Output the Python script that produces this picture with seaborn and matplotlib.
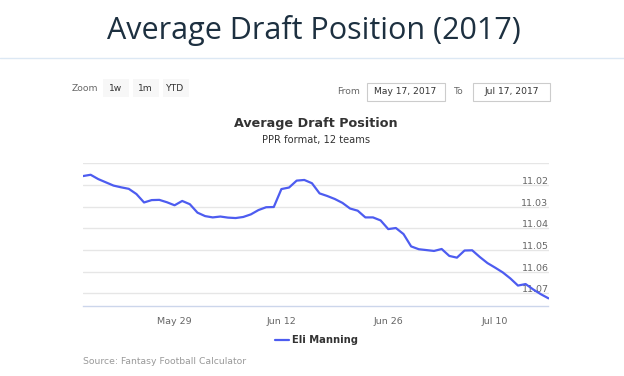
import pandas as pd
import numpy as np
import matplotlib
matplotlib.use('Agg')
import matplotlib.pyplot as plt
import matplotlib.dates as mdates
import matplotlib.transforms as mtransforms
from matplotlib.patches import Rectangle
import seaborn as sns

# data (ADP of Eli Manning, daily, May 17 - Jul 17 2017)
start_date = '2017-05-17'
end_date = '2017-07-17'
adp = [11.0159, 11.0153, 11.0173, 11.0188, 11.0203, 11.0211, 11.0218, 11.0242,
       11.0281, 11.0270, 11.0269, 11.0280, 11.0294, 11.0274, 11.0289, 11.0328,
       11.0344, 11.0350, 11.0346, 11.0351, 11.0353, 11.0348, 11.0336, 11.0316,
       11.0303, 11.0302, 11.0219, 11.0212, 11.0180, 11.0177, 11.0192, 11.0239,
       11.0251, 11.0265, 11.0283, 11.0309, 11.0319, 11.0350, 11.0350, 11.0364,
       11.0404, 11.0399, 11.0427, 11.0484, 11.0497, 11.0501, 11.0505, 11.0496,
       11.0528, 11.0536, 11.0503, 11.0502, 11.0533, 11.0561, 11.0582, 11.0604,
       11.0632, 11.0665, 11.0658, 11.0683, 11.0705, 11.0724]
player = 'Eli Manning'
y_ticks = [11.01, 11.02, 11.03, 11.04, 11.05, 11.06, 11.07]
x_ticks = ['2017-05-29', '2017-06-12', '2017-06-26', '2017-07-10']
x_tick_labels = ['May 29', 'Jun 12', 'Jun 26', 'Jul 10']

dates = pd.date_range(start_date, end_date, freq='D')
df = pd.DataFrame({'date': dates, 'adp': adp})

sns.set_style('white')
plt.rcParams['font.family'] = ['DejaVu Sans']

W, H = 624, 376
fig = plt.figure(figsize=(W / 100, H / 100), dpi=100)


def fx(px):
    return px / W


def fy(py):
    return 1 - py / H


# page header
fig.text(fx(314), fy(30), 'Average Draft Position (2017)', family='Open Sans',
         fontsize=22, color='#1d3040', ha='center', va='center')
fig.add_artist(plt.Line2D([0, 1], [fy(58), fy(58)], color='#dce8f4', lw=1))

# zoom buttons
fig.text(fx(72), fy(88.5), 'Zoom', fontsize=6.6, color='#666666', va='center')
for x0, x1, lab in [(102.5, 128.5, '1w'), (132.5, 159, '1m'), (162.5, 188.5, 'YTD')]:
    fig.add_artist(Rectangle((fx(x0), fy(96.7)), fx(x1 - x0), (96.7 - 79.3) / H,
                             facecolor='#f7f7f7', edgecolor='none'))
    fig.text(fx((x0 + x1) / 2), fy(88.5), lab, fontsize=6.6, color='#333333',
             ha='center', va='center')

# date range inputs
fig.text(fx(337), fy(92), 'From', fontsize=6.6, color='#666666', va='center')
fig.text(fx(453.5), fy(92), 'To', fontsize=6.6, color='#666666', va='center')
for x0, x1, lab in [(366.5, 444.5, 'May 17, 2017'), (472.5, 550, 'Jul 17, 2017')]:
    fig.add_artist(Rectangle((fx(x0), fy(101)), fx(x1 - x0), (101 - 83.3) / H,
                             facecolor='white', edgecolor='#cccccc', lw=0.8))
    fig.text(fx((x0 + x1) / 2), fy(92), lab, fontsize=6.6, color='#333333',
             ha='center', va='center')

# chart titles
fig.text(fx(316), fy(123.5), 'Average Draft Position', fontsize=9.2,
         fontweight='bold', color='#333333', ha='center', va='center')
fig.text(fx(316), fy(140.5), 'PPR format, 12 teams', fontsize=7.1,
         color='#333333', ha='center', va='center')

# plot area
ax = fig.add_axes([fx(83), fy(305.7), fx(548.5 - 83), (305.7 - 163.3) / H])
sns.lineplot(data=df, x='date', y='adp', ax=ax, color='#4d5cf0', lw=1.6,
             legend=False, zorder=3)
ax.set_xlim(dates[0], dates[-1])
ax.set_ylim(11.0758, 11.01)
ax.set_yticks(y_ticks)
ax.yaxis.grid(True, color='#e6e6e6', lw=1)
ax.xaxis.grid(False)
ax.tick_params(axis='y', length=0, labelleft=False)
ax.set_xticks(pd.to_datetime(x_ticks))
ax.set_xticklabels(x_tick_labels)
ax.tick_params(axis='x', length=5, width=1, color='#ccd6eb', labelcolor='#666666',
               labelsize=6.8, pad=3)
ax.set_xlabel('')
ax.set_ylabel('')
for s in ['top', 'left', 'right']:
    ax.spines[s].set_visible(False)
ax.spines['bottom'].set_color('#ccd6eb')
ax.spines['bottom'].set_linewidth(1)

trans = mtransforms.blended_transform_factory(ax.transAxes, ax.transData)
trans = mtransforms.offset_copy(trans, fig=fig, x=0, y=1, units='dots')
for v in y_ticks[1:]:
    ax.text(1.0, v, f'{v:.2f}', transform=trans, ha='right', va='baseline',
            fontsize=6.8, color='#666666', zorder=2)

# legend and source
fig.add_artist(plt.Line2D([fx(274.5), fx(288.5)], [fy(340), fy(340)],
                          color='#4d5cf0', lw=1.6))
fig.text(fx(292.5), fy(340), player, fontsize=7.2, fontweight='bold',
         color='#333333', va='center')
fig.text(fx(83), fy(362), 'Source: Fantasy Football Calculator', fontsize=6.7,
         color='#999999', va='center')

fig.savefig('out.png', dpi=100)
